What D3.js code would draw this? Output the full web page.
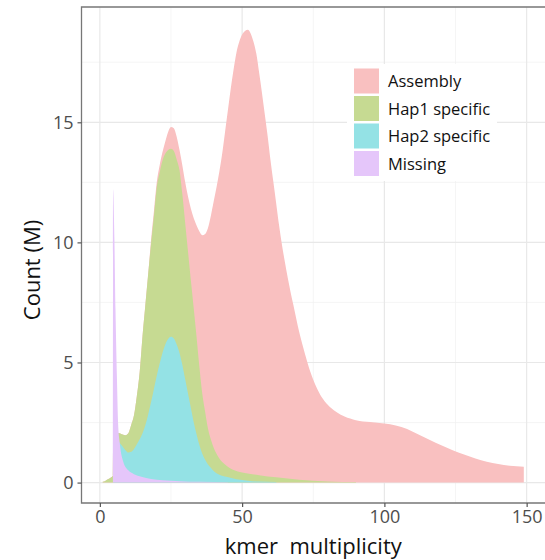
<!DOCTYPE html>
<html>
<head>
<meta charset="utf-8">
<script src="https://cdn.jsdelivr.net/npm/d3@7"></script>
<style>
  body { margin: 0; background: #fff; }
  text { font-family: "Open Sans", sans-serif; }
</style>
</head>
<body>
<div id="chart"></div>
<script>
// Series: [kmer multiplicity, count in millions]
const assembly = [[1,0.03],[2,0.08],[3,0.15],[4,0.22],[4.6,0.3],[4.7,2.2],[6,2.1],[7,2.05],[8,2.0],[9,1.97],[10,2.05],
  [11,2.4],[12,2.8],[13,3.6],[14,4.6],[15,6.1],[16,7.4],[17,8.7],[18,10.1],[19,11.3],[20,12.5],[21,13.2],[22,13.75],
  [23,14.2],[24,14.6],[25,14.8],[26,14.75],[27,14.4],[28,13.85],[29,13.2],[30,12.5],[31,11.9],[32,11.4],[33,11.0],
  [34,10.7],[35,10.45],[36,10.3],[37,10.35],[38,10.6],[39,11.1],[40,11.7],[41,12.3],[42,12.95],[43,13.7],[44,14.6],
  [45,15.5],[46,16.4],[47,17.2],[48,17.9],[49,18.35],[50,18.65],[51,18.8],[52,18.85],[53,18.7],[54,18.35],[55,17.85],
  [56,17.05],[57,16.2],[58,15.3],[59,14.4],[60,13.4],[61,12.5],[62,11.6],[63,10.7],[64,9.9],[65,9.2],[66,8.55],
  [67,7.95],[68,7.4],[70,6.3],[72,5.4],[74,4.6],[76,4.0],[78,3.55],[80,3.25],[83,2.95],[86,2.75],[90,2.6],[95,2.52],
  [100,2.46],[104,2.38],[108,2.23],[112,2.0],[116,1.77],[120,1.55],[124,1.35],[128,1.17],[132,1.0],[136,0.87],
  [140,0.77],[144,0.7],[149,0.66]];

const hap1 = [[1,0.03],[2,0.08],[3,0.15],[4,0.22],[4.6,0.3],[4.7,2.2],[6,2.1],[7,2.05],[8,2.0],[9,1.97],[10,2.05],
  [11,2.4],[12,2.8],[13,3.6],[14,4.6],[15,6.1],[16,7.4],[17,8.7],[18,9.95],[19,11.1],[20,12.3],[21,12.9],[22,13.4],
  [23,13.7],[24,13.85],[25,13.9],[26,13.8],[27,13.45],[28,13.0],[29,12.0],[30,10.8],[31,9.6],[32,8.4],[33,7.25],
  [34,6.05],[35,4.8],[36,3.7],[37,2.95],[38,2.25],[39,1.8],[40,1.45],[41,1.2],[42,1.0],[44,0.75],[47,0.52],[50,0.42],
  [56,0.31],[62,0.22],[70,0.12],[80,0.05],[90,0.02]];

const hap2 = [[4.7,1.9],[6,1.8],[7,1.65],[8,1.5],[9,1.35],[10,1.25],[11,1.28],[12,1.4],[13,1.6],[14,1.8],[15,2.05],
  [16,2.4],[17,2.85],[18,3.35],[19,3.9],[20,4.45],[21,4.95],[22,5.4],[23,5.75],[24,5.98],[25,6.07],[26,6.0],
  [27,5.75],[28,5.4],[29,4.9],[30,4.3],[31,3.7],[32,3.1],[33,2.5],[34,2.0],[35,1.55],[36,1.2],[37,0.95],[38,0.75],
  [39,0.62],[40,0.48],[42,0.33],[44.5,0.24],[48,0.14],[52,0.08],[56,0.04],[62,0.02]];

const missing = [[4.6,0],[4.65,12.2],[5.1,10.2],[5.5,7.2],[6.0,4.4],[6.4,2.5],[7,1.64],[8.2,0.88],[9.9,0.52],
  [12,0.35],[14.6,0.24],[18,0.15],[22,0.1],[28,0.06],[35,0.03],[45,0.01]];

const seriesNames = ["Assembly", "Hap1 specific", "Hap2 specific", "Missing"];
const seriesColors = ["#f9c0c0", "#c6da92", "#94e2e5", "#e5c6fa"];
const xTicks = [0, 50, 100, 150];
const yTicks = [0, 5, 10, 15];
const xMinor = [25, 75, 125];
const yMinor = [2.5, 7.5, 12.5, 17.5];

const W = 545, H = 560;
const panel = { left: 81.5, top: 7, right: 545, bottom: 503 };

const svg = d3.select("#chart").append("svg")
  .attr("width", W)
  .attr("height", H);

const x = d3.scaleLinear().domain([-6.45, 156.45]).range([panel.left, panel.right]);
const y = d3.scaleLinear().domain([-0.85, 19.8]).range([panel.bottom, panel.top]);

svg.append("clipPath").attr("id", "clip")
  .append("rect")
  .attr("x", panel.left).attr("y", panel.top)
  .attr("width", panel.right - panel.left).attr("height", panel.bottom - panel.top);

const plot = svg.append("g").attr("clip-path", "url(#clip)");

// grid
plot.selectAll(".xminor").data(xMinor).join("line")
  .attr("x1", d => x(d)).attr("x2", d => x(d))
  .attr("y1", panel.top).attr("y2", panel.bottom)
  .attr("stroke", "#f1f1f1").attr("stroke-width", 0.7);
plot.selectAll(".yminor").data(yMinor).join("line")
  .attr("y1", d => y(d)).attr("y2", d => y(d))
  .attr("x1", panel.left).attr("x2", panel.right)
  .attr("stroke", "#f1f1f1").attr("stroke-width", 0.7);
plot.selectAll(".xmajor").data(xTicks).join("line")
  .attr("x1", d => x(d)).attr("x2", d => x(d))
  .attr("y1", panel.top).attr("y2", panel.bottom)
  .attr("stroke", "#e8e8e8").attr("stroke-width", 1.2);
plot.selectAll(".ymajor").data(yTicks).join("line")
  .attr("y1", d => y(d)).attr("y2", d => y(d))
  .attr("x1", panel.left).attr("x2", panel.right)
  .attr("stroke", "#e8e8e8").attr("stroke-width", 1.2);

// areas, drawn back to front
const area = d3.area()
  .x(d => x(d[0]))
  .y0(y(0))
  .y1(d => y(d[1]))
  .curve(d3.curveMonotoneX);

[assembly, hap1, hap2, missing].forEach((s, i) => {
  plot.append("path")
    .datum(s)
    .attr("d", area)
    .attr("fill", seriesColors[i]);
});

// panel border: right side runs off the picture
svg.append("path")
  .attr("d", "M" + W + "," + panel.top + "H" + panel.left + "V" + panel.bottom + "H" + W)
  .attr("fill", "none").attr("stroke", "#777").attr("stroke-width", 1.3);

// axes
const xAxis = d3.axisBottom(x).tickValues(xTicks).tickSize(4).tickPadding(3);
const yAxis = d3.axisLeft(y).tickValues(yTicks).tickSize(4).tickPadding(4);

const gx = svg.append("g")
  .attr("transform", "translate(0," + panel.bottom + ")")
  .call(xAxis);
const gy = svg.append("g")
  .attr("transform", "translate(" + panel.left + ",0)")
  .call(yAxis);

[gx, gy].forEach(g => {
  g.select(".domain").remove();
  g.selectAll(".tick line").attr("stroke", "#555").attr("stroke-width", 1.2);
  g.selectAll(".tick text")
    .attr("fill", "#4d4d4d")
    .style("font-size", "18px")
    .style("font-family", "'Open Sans', sans-serif");
});

// axis titles
svg.append("text")
  .attr("x", (panel.left + panel.right) / 2)
  .attr("y", 554)
  .attr("text-anchor", "middle")
  .style("font-size", "22px")
  .attr("fill", "#111")
  .attr("xml:space", "preserve")
  .text("kmer  multiplicity");

svg.append("text")
  .attr("transform", "rotate(-90)")
  .attr("x", -270)
  .attr("y", 40)
  .attr("text-anchor", "middle")
  .style("font-size", "22px")
  .attr("fill", "#111")
  .text("Count (M)");

// legend
const legend = svg.append("g");
legend.append("rect")
  .attr("x", 347).attr("y", 64)
  .attr("width", 150).attr("height", 117)
  .attr("fill", "#fff");

const keys = legend.selectAll(".key").data(seriesNames).join("g")
  .attr("transform", (d, i) => "translate(354," + (68.5 + i * 27.5) + ")");
keys.append("rect")
  .attr("width", 25).attr("height", 25)
  .attr("fill", (d, i) => seriesColors[i]);
keys.append("text")
  .attr("x", 34)
  .attr("y", 18.5)
  .style("font-size", "16.5px")
  .attr("fill", "#111")
  .text(d => d);
</script>
</body>
</html>
